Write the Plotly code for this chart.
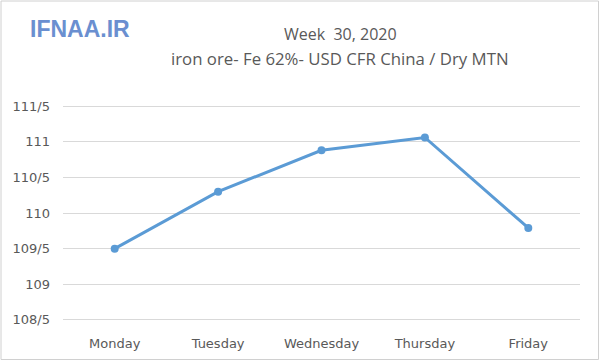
import plotly.graph_objects as go

days = ["Monday", "Tuesday", "Wednesday", "Thursday", "Friday"]
prices = [109.5, 110.30, 110.88, 111.06, 109.79]
tick_vals = [108.5, 109, 109.5, 110, 110.5, 111, 111.5]
tick_text = ["108/5", "109", "109/5", "110", "110/5", "111", "111/5"]

W, H = 600, 361
ml, mr, mt, mb = 63, 20, 99, 34
pw, ph = W - ml - mr, H - mt - mb

fig = go.Figure()
fig.add_trace(go.Scatter(
    x=list(range(len(days))), y=prices, mode="lines+markers",
    line=dict(color="#5b9bd5", width=3),
    marker=dict(color="#5b9bd5", size=8),
    showlegend=False, hoverinfo="skip"))

fig.update_layout(
    width=W, height=H,
    margin=dict(l=ml, r=mr, t=mt, b=mb, autoexpand=False),
    paper_bgcolor="white", plot_bgcolor="white",
    font=dict(family="DejaVu Sans, sans-serif", color="#595959", size=12),
    xaxis=dict(range=[-0.5, 4.5], tickvals=list(range(len(days))), ticktext=days,
               showgrid=False, zeroline=False, showline=False, ticks="",
               ticklabelstandoff=7,
               tickfont=dict(size=13, color="#595959", family="DejaVu Sans, sans-serif")),
    yaxis=dict(range=[108.4, 111.6], tickvals=tick_vals, ticktext=tick_text,
               showgrid=True, gridcolor="#d9d9d9", gridwidth=1, zeroline=False,
               showline=False, ticks="", ticklen=0, ticklabelstandoff=12,
               tickfont=dict(size=13, color="#595959", family="DejaVu Sans, sans-serif")),
)

# outer border
fig.add_shape(type="rect", xref="paper", yref="paper",
              x0=(1 - ml) / pw, x1=(W - 1.5 - ml) / pw,
              y0=-(mb - 1.5) / ph, y1=1 + (mt - 1) / ph,
              line=dict(color="#d0d0d0", width=1), fillcolor="rgba(0,0,0,0)", layer="below")

# titles
fig.add_annotation(xref="paper", yref="paper", x=(340 - ml) / pw, y=1 + (mt - 34) / ph,
                   text="Week  30, 2020", showarrow=False, xanchor="center", yanchor="middle",
                   font=dict(size=16, color="#595959", family="Open Sans, sans-serif"))
fig.add_annotation(xref="paper", yref="paper", x=(340 - ml) / pw, y=1 + (mt - 59) / ph,
                   text="iron ore- Fe 62%- USD CFR China / Dry MTN", showarrow=False,
                   xanchor="center", yanchor="middle",
                   font=dict(size=16.8, color="#595959", family="Open Sans, sans-serif"))
fig.add_annotation(xref="paper", yref="paper", x=(28 - ml) / pw, y=1 + (mt - 29) / ph,
                   text="<b>IFNAA.IR</b>", showarrow=False, xanchor="left", yanchor="middle",
                   font=dict(size=23, color="#6a8fd0", family="Liberation Sans, sans-serif"))

fig.write_html("out.html", config={"displayModeBar": False},
               post_script="document.body.style.margin='0';document.body.style.padding='0';")
